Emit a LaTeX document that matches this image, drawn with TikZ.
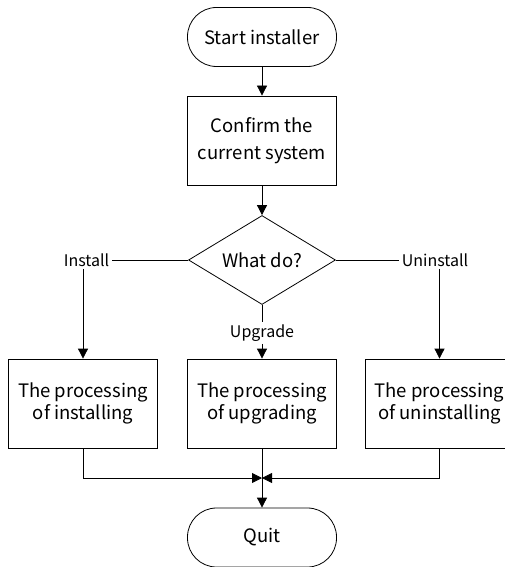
\documentclass[tikz,border=0pt]{standalone}
\usepackage{fontspec}
\setmainfont{Noto Sans CJK JP}
\usetikzlibrary{shapes.geometric,arrows.meta}
\begin{document}
\begin{tikzpicture}[x=1pt,y=-1pt,
  line width=0.8pt,
  arr/.style={-{Triangle[length=10pt,width=10pt]}},
  proc/.style={draw,minimum width=149pt,minimum height=89pt,align=center,inner sep=1pt,font=\fontsize{18.5}{22}\selectfont},
  term/.style={draw,rounded corners=29pt,minimum width=149pt,minimum height=59pt,font=\fontsize{18.5}{20}\selectfont},
  decide/.style={draw,diamond,aspect=1.65,minimum width=147pt,minimum height=89pt,inner sep=0pt,font=\fontsize{18.5}{20}\selectfont},
  lbl/.style={font=\fontsize{16}{18}\selectfont,inner sep=2pt}]
\useasboundingbox (0,0) rectangle (505,567);
\node[term] (start) at (262,37) {Start installer};
\node[proc,font=\fontsize{18.5}{27}\selectfont] (confirm) at (262,140.5) {Confirm the\\current system};
\node[decide] (what) at (262,260) {What do?};
\node[lbl] (install) at (86.5,260) {Install};
\node[lbl] (uninstall) at (435,260) {Uninstall};
\node[lbl] (upgrade) at (262,333) {Upgrade};
\node[proc] (p1) at (83,403.5) {The processing\\of installing};
\node[proc] (p2) at (262,403.5) {The processing\\of upgrading};
\node[proc] (p3) at (439.5,403.5) {The processing\\of uninstalling};
\node[term] (quit) at (262,537.5) {Quit};
\coordinate (j) at (262,478);
\draw[arr] (start) -- (confirm);
\draw[arr] (confirm) -- (what);
\draw (what.west) -- (install.east);
\draw (what.east) -- (uninstall.west);
\draw[arr] (p1.north |- install.south) -- (p1.north);
\draw[arr] (p3.north |- uninstall.south) -- (p3.north);
\draw (what.south) -- (upgrade.north);
\draw[arr] (upgrade.south) -- (p2.north);
\draw[arr] (p1.south) |- (j);
\draw[arr] (p3.south) |- (j);
\draw[arr] (p2.south) -- (quit.north);
\end{tikzpicture}
\end{document}
